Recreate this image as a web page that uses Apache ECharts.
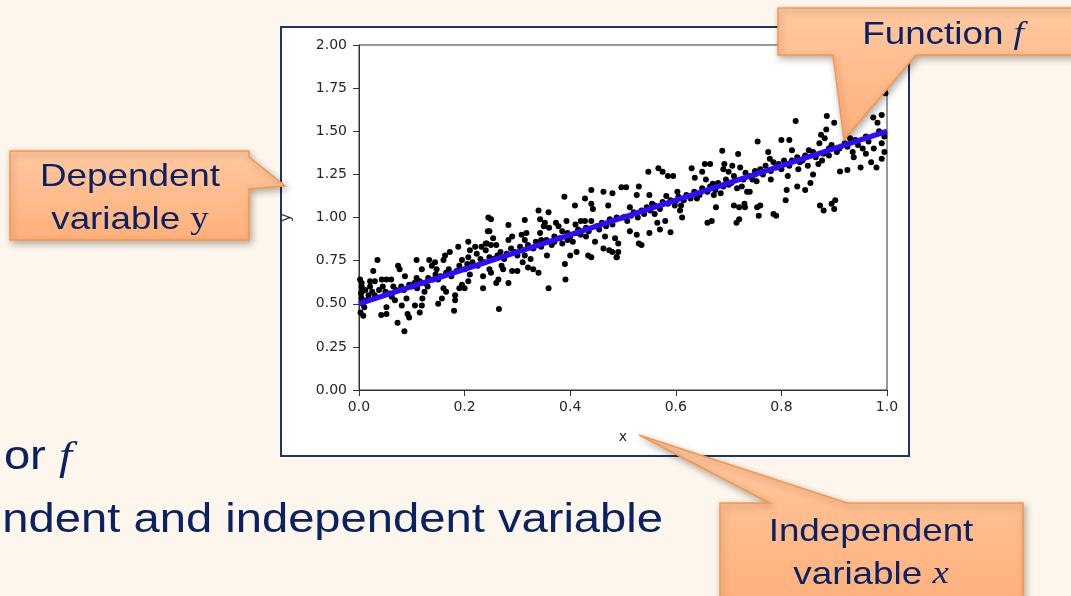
<!DOCTYPE html>
<html><head><meta charset="utf-8">
<script src="https://cdn.jsdelivr.net/npm/echarts@6/dist/echarts.min.js"></script>
<style>html,body{margin:0;padding:0;background:#fdf6ec;overflow:hidden}#c{width:1071px;height:596px}</style>
</head><body><div id="c"></div>
<script>
const xTicks = [0.0, 0.2, 0.4, 0.6, 0.8, 1.0];
const yTicks = [0.00, 0.25, 0.50, 0.75, 1.00, 1.25, 1.50, 1.75, 2.00];
const lineX = [0, 1];
const lineY = [0.5, 1.5];
const pointsA = [[0.035,0.754],[0.027,0.69],[0.005,0.62],[0.005,0.60],[0.005,0.57],[0.005,0.53],[0.007,0.50],[0.01,0.48],[0.021,0.63],[0.021,0.60],[0.03,0.63],[0.043,0.64],[0.052,0.64],[0.061,0.64],[0.074,0.72],[0.077,0.70],[0.087,0.66],[0.042,0.435],[0.052,0.44],[0.052,0.48],[0.062,0.54],[0.068,0.52],[0.073,0.39],[0.086,0.34],[0.081,0.49],[0.09,0.53],[0.092,0.44],[0.095,0.42],[0.106,0.49],[0.109,0.754],[0.109,0.65],[0.115,0.63],[0.119,0.70],[0.12,0.53],[0.124,0.57],[0.115,0.45],[0.119,0.49],[0.133,0.754],[0.138,0.72],[0.144,0.74],[0.147,0.70],[0.131,0.65],[0.150,0.50],[0.157,0.53],[0.16,0.59],[0.165,0.57],[0.16,0.754],[0.163,0.78],[0.172,0.80],[0.188,0.83],[0.195,0.754],[0.182,0.55],[0.182,0.52],[0.18,0.46],[0.19,0.59],[0.195,0.61],[0.2,0.59],[0.207,0.86],[0.21,0.81],[0.207,0.77],[0.21,0.67],[0.207,0.63],[0.22,0.83],[0.223,0.79],[0.232,0.83],[0.24,0.81],[0.235,0.66],[0.235,0.59],[0.245,1.0],[0.244,0.92],[0.242,0.85],
[0.002,0.64],[0.003,0.45],[0.008,0.43],[0.004,0.56],[0.012,0.58],[0.015,0.52],[0.018,0.55],[0.025,0.57],[0.03,0.55],[0.038,0.58],[0.045,0.60],[0.05,0.57],[0.058,0.56],[0.065,0.60],[0.07,0.58],[0.08,0.60],[0.085,0.58],[0.095,0.61],[0.1,0.60],[0.105,0.62],[0.11,0.59],[0.125,0.62],[0.13,0.60],[0.14,0.64],[0.145,0.67],[0.15,0.64],[0.155,0.66],[0.165,0.68],[0.17,0.70],[0.175,0.66],[0.185,0.69],[0.19,0.72],[0.2,0.70],[0.205,0.73],[0.215,0.74],[0.225,0.72],[0.23,0.76],[0.238,0.74]];
const pointsB = [[0.25,0.99],[0.247,0.92],[0.24,0.85],[0.25,0.84],[0.254,0.88],[0.26,0.84],[0.247,0.77],[0.247,0.70],[0.25,0.68],[0.26,0.62],[0.264,0.64],[0.265,0.47],[0.27,0.72],[0.273,0.70],[0.283,0.957],[0.283,0.87],[0.283,0.62],[0.29,0.89],[0.30,0.78],[0.29,0.69],[0.30,0.69],[0.308,0.90],[0.314,0.985],[0.314,0.87],[0.317,0.91],[0.314,0.78],[0.31,0.74],[0.32,0.71],[0.325,0.76],[0.33,0.70],[0.34,0.68],[0.34,1.04],[0.343,0.99],[0.343,0.91],[0.35,0.95],[0.352,0.97],[0.345,0.87],[0.359,1.03],[0.356,0.78],[0.359,0.59],[0.36,0.94],[0.37,0.86],[0.373,0.97],[0.378,0.95],[0.385,0.92],[0.389,1.12],[0.39,0.73],[0.391,0.64],[0.393,0.98],[0.395,0.87],[0.40,0.78],[0.405,0.86],[0.409,1.07],[0.41,0.96],[0.412,0.91],[0.412,0.80],[0.42,0.98],[0.428,1.11],[0.428,0.98],[0.43,0.89],[0.434,0.78],[0.44,1.08],[0.44,0.98],[0.44,1.16],[0.443,1.05],[0.447,0.86],[0.463,0.82],[0.463,1.15],[0.466,0.89],[0.472,1.07],[0.48,1.14],[0.474,0.81],[0.485,0.88],
[0.255,0.76],[0.262,0.78],[0.268,0.80],[0.275,0.76],[0.28,0.79],[0.288,0.82],[0.295,0.80],[0.305,0.83],[0.31,0.81],[0.32,0.84],[0.33,0.82],[0.335,0.86],[0.345,0.83],[0.355,0.87],[0.365,0.84],[0.37,0.89],[0.38,0.88],[0.385,0.85],[0.395,0.91],[0.4,0.89],[0.415,0.93],[0.42,0.90],[0.43,0.94],[0.435,0.92],[0.45,0.95],[0.455,0.93],[0.46,0.97],[0.468,0.95],[0.475,0.99],[0.48,0.96],[0.488,1.0],[0.44,0.77],[0.48,0.80],[0.488,0.77]];
const pointsC = [[0.491,0.85],[0.491,0.80],[0.497,1.175],[0.506,1.175],[0.504,1.005],[0.513,1.06],[0.513,0.92],[0.526,0.90],[0.53,1.18],[0.53,0.85],[0.526,1.13],[0.548,1.265],[0.55,1.13],[0.55,0.91],[0.555,1.08],[0.56,1.02],[0.565,0.97],[0.567,1.285],[0.575,1.265],[0.57,0.93],[0.58,0.98],[0.582,1.125],[0.59,0.915],[0.585,1.24],[0.595,1.24],[0.6,1.095],[0.603,1.15],[0.61,1.07],[0.612,1.0],[0.608,1.04],[0.63,1.285],[0.636,1.23],[0.64,1.11],[0.65,1.265],[0.655,1.31],[0.657,1.22],[0.665,1.31],[0.668,0.98],[0.67,1.195],[0.672,1.13],[0.676,1.06],[0.685,1.14],[0.69,1.28],[0.692,1.31],[0.688,1.387],[0.70,1.265],[0.705,1.20],[0.71,1.07],[0.707,1.30],[0.712,1.22],[0.716,1.17],[0.72,0.99],[0.718,1.368],[0.722,1.29],[0.725,1.18],[0.73,1.08],[0.735,1.15],
[0.535,0.84],[0.488,0.77],[0.66,0.97],[0.715,0.97],[0.72,1.06],[0.754,1.06],[0.785,1.02],[0.873,1.07],[0.895,1.08],
[0.5,1.0],[0.508,0.98],[0.515,1.01],[0.52,1.03],[0.528,1.0],[0.535,1.04],[0.54,1.02],[0.545,1.06],[0.552,1.04],[0.56,1.07],[0.57,1.05],[0.575,1.09],[0.585,1.08],[0.59,1.1],[0.598,1.07],[0.605,1.12],[0.615,1.1],[0.62,1.13],[0.628,1.11],[0.635,1.15],[0.645,1.13],[0.65,1.17],[0.66,1.15],[0.665,1.18],[0.675,1.16],[0.68,1.2],[0.69,1.18],[0.695,1.22],[0.7,1.19],[0.71,1.24],[0.728,1.22],[0.732,1.26]];
const pointsD = [[0.731,1.06],[0.74,1.15],[0.755,1.44],[0.757,1.01],[0.76,1.07],[0.75,1.27],[0.753,1.21],[0.775,1.38],[0.778,1.34],[0.79,1.01],[0.78,1.22],[0.785,1.32],[0.80,1.45],[0.81,1.16],[0.808,1.10],[0.812,1.24],[0.815,1.45],[0.82,1.39],[0.83,1.18],[0.832,1.28],[0.827,1.56],[0.835,1.32],[0.845,1.16],[0.85,1.30],[0.852,1.39],[0.855,1.20],[0.86,1.25],[0.87,1.31],[0.872,1.43],[0.875,1.48],[0.877,1.33],[0.88,1.04],[0.882,1.46],[0.885,1.51],[0.886,1.588],[0.89,1.40],[0.9,1.05],[0.902,1.10],[0.9,1.55],[0.905,1.38],[0.911,1.266],[0.925,1.275],[0.93,1.46],[0.935,1.38],[0.937,1.35],[0.95,1.29],[0.954,1.40],[0.97,1.32],[0.974,1.58],[0.975,1.40],[0.98,1.29],[0.982,1.55],[0.99,1.594],[0.99,1.43],[0.995,1.38],[0.997,1.72],
[0.738,1.24],[0.745,1.22],[0.75,1.25],[0.76,1.28],[0.765,1.25],[0.77,1.3],[0.78,1.27],[0.79,1.29],[0.795,1.31],[0.8,1.28],[0.805,1.33],[0.815,1.3],[0.82,1.33],[0.83,1.35],[0.84,1.33],[0.845,1.36],[0.86,1.38],[0.865,1.35],[0.88,1.37],[0.89,1.36],[0.895,1.42],[0.91,1.4],[0.92,1.43],[0.925,1.41],[0.94,1.45],[0.945,1.42],[0.96,1.47],[0.965,1.44],[0.985,1.5],[0.995,1.47],[0.96,1.37],[0.99,1.34]];
const scatterPoints = pointsA.concat(pointsB, pointsC, pointsD);
const linePoints = lineX.map((x, i) => [x, lineY[i]]);

const NAVY = '#0b2262';
const calloutFill = {type:'linear', x:0, y:0, x2:0, y2:1, colorStops:[{offset:0, color:'#ffc8a0'},{offset:1, color:'#ffb07a'}]};
const calloutStyle = {fill: calloutFill, stroke:'#f79646', lineWidth:1.5, shadowBlur:7, shadowOffsetX:2, shadowOffsetY:3, shadowColor:'rgba(0,0,0,0.3)'};
function txt(x, y, text, rich, align, sx) {
  return {type:'text', x:x, y:y, scaleX: sx || 1.15, z:110,
    style:{text:text, rich:rich, align:align || 'center', textAlign: align || 'center', verticalAlign:'middle', textVerticalAlign:'middle'}};
}
const richCall = {
  a:{font:'32px "Liberation Sans", Arial, sans-serif', fill:NAVY, color:NAVY},
  i:{font:'italic 32px "Liberation Serif", "DejaVu Serif", serif', fill:NAVY, color:NAVY},
  s:{font:'32px "Liberation Serif", "DejaVu Serif", serif', fill:NAVY, color:NAVY}
};
const richMain = {
  a:{font:'41px "Liberation Sans", Arial, sans-serif', fill:NAVY, color:NAVY},
  i:{font:'italic 41px "Liberation Serif", "DejaVu Serif", serif', fill:NAVY, color:NAVY}
};

const chart = echarts.init(document.getElementById('c'), null, {renderer:'canvas'});
chart.setOption({
  animation:false,
  backgroundColor:'#fdf6ec',
  grid:{left:359, top:45, width:528, height:345, show:true, borderColor:'#333', borderWidth:1, backgroundColor:'transparent'},
  xAxis:{type:'value', min:0, max:1, interval:0.2, name:'x', nameLocation:'middle', nameGap:40,
    nameTextStyle:{color:'#262626', fontSize:14, fontFamily:'DejaVu Sans'},
    axisLine:{show:true, lineStyle:{color:'#333', width:1}},
    axisTick:{show:true, length:6, lineStyle:{color:'#333'}},
    axisLabel:{color:'#262626', fontSize:14, fontFamily:'DejaVu Sans', margin:10,
      formatter:v => { const t = xTicks.find(k => Math.abs(k - v) < 1e-9); return (t === undefined ? v : t).toFixed(1); }},
    splitLine:{show:false}},
  yAxis:{type:'value', min:0, max:2, interval:0.25, name:'y', nameLocation:'middle', nameGap:66, nameRotate:90,
    nameTextStyle:{color:'#262626', fontSize:14, fontFamily:'DejaVu Sans'},
    axisLine:{show:true, lineStyle:{color:'#333', width:1}},
    axisTick:{show:true, length:6, lineStyle:{color:'#333'}},
    axisLabel:{color:'#262626', fontSize:14, fontFamily:'DejaVu Sans', margin:12,
      formatter:v => { const t = yTicks.find(k => Math.abs(k - v) < 1e-9); return (t === undefined ? v : t).toFixed(2); }},
    splitLine:{show:false}},
  series:[
    {type:'scatter', data:scatterPoints, symbolSize:6, itemStyle:{color:'#000', opacity:1}, z:2, silent:true},
    {type:'line', data:linePoints, showSymbol:false, lineStyle:{color:'#2e0cff', width:5}, z:3, silent:true}
  ],
  graphic:[
    {type:'rect', z:-10, shape:{x:281, y:27, width:628, height:429}, style:{fill:'#ffffff', stroke:'#1f3568', lineWidth:2}, silent:true},
    // main slide text
    txt(72, 458, '{a|or }{i|f}', richMain, 'right'),
    txt(663, 521, '{a|ndent and independent variable}', richMain, 'right'),
    // callouts
    {type:'polygon', z:100, shape:{points:[[10,151],[249,151],[249,157],[285,186],[249,189],[249,240],[10,240]]}, style:calloutStyle},
    txt(130, 177, '{a|Dependent}', richCall),
    txt(130, 220, '{a|variable }{s|y}', richCall),
    {type:'polygon', z:100, shape:{points:[[778,8],[1110,8],[1110,55],[916,55],[844,140],[833,55],[778,55]]}, style:calloutStyle},
    txt(943, 35, '{a|Function }{i|f}', richCall),
    {type:'polygon', z:100, shape:{points:[[720,503],[770,503],[639,435],[847,503],[1023,503],[1023,610],[720,610]]}, style:calloutStyle},
    txt(871, 532, '{a|Independent}', richCall),
    txt(871, 575, '{a|variable }{i|x}', richCall)
  ]
});
</script>
</body></html>
